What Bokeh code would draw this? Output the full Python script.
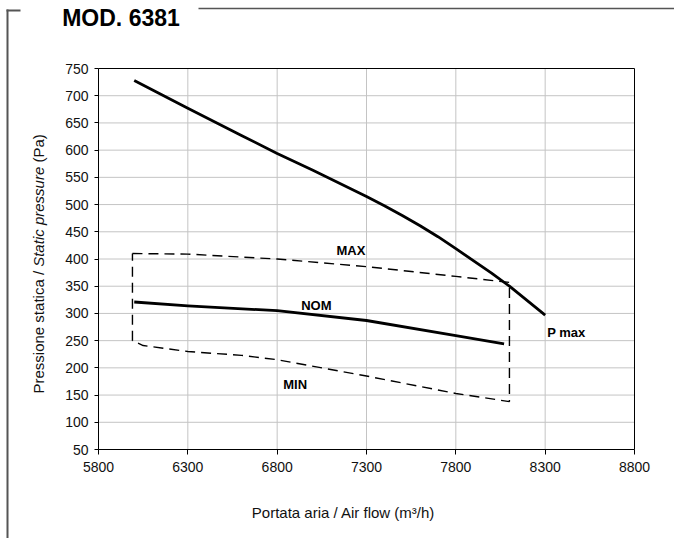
import math
from bokeh.plotting import figure
from bokeh.models import Label, Arrow, Range1d, LinearAxis, FixedTicker
from bokeh.embed import file_html
from bokeh.resources import INLINE

# ---------------- data ----------------
X_TICKS = [5800, 6300, 6800, 7300, 7800, 8300, 8800]
Y_TICKS = list(range(50, 751, 50))

# P max curve (solid)
PMAX_X = [6000, 6300, 6600, 6800, 7000, 7300, 7400, 7500, 7600, 7700, 7800, 8000, 8100, 8300]
PMAX_Y = [728, 677, 627, 594, 563, 515, 498, 480, 461, 441, 419, 374, 350, 297]

# NOM curve (solid)
NOM_X = [6000, 6300, 6800, 7300, 7800, 8070]
NOM_Y = [321, 314, 305, 287, 259, 244]

# MAX limit (dashed)
MAXD_X = [5990, 6300, 6800, 7300, 7800, 8100]
MAXD_Y = [410, 409, 400, 386, 368, 357]

# MIN limit (dashed)
MIND_X = [5990, 6050, 6300, 6600, 6800, 7300, 7800, 8100]
MIND_Y = [250, 241, 230, 223, 215, 185, 153, 138]

TITLE = "MOD. 6381"
XLABEL = "Portata aria / Air flow (m³/h)"
YLABEL_PARTS = [("Pressione statica /", "normal"), ("Static pressure", "italic"), ("(Pa)", "normal")]

# ---------------- layout (canvas pixels of the chart box) ----------------
W, H = 674, 538
BOX_L, BOX_R, BOX_T, BOX_B = 98, 634, 68, 449
X0, X1 = X_TICKS[0], X_TICKS[-1]
Y0, Y1 = Y_TICKS[0], Y_TICKS[-1]


def px2x(px):
    return X0 + (px - BOX_L) * (X1 - X0) / (BOX_R - BOX_L)


def py2y(py):
    return Y1 - (py - BOX_T) * (Y1 - Y0) / (BOX_B - BOX_T)


p = figure(width=W, height=H,
           x_range=Range1d(px2x(0), px2x(W)), y_range=Range1d(py2y(H), py2y(0)),
           output_backend="svg", toolbar_location=None, min_border=0)
p.title.visible = False
p.background_fill_color = "white"
p.border_fill_color = "white"
p.outline_line_color = None
p.grid.visible = False

# axes fixed on the edges of the chart box
p.yaxis.fixed_location = X0
p.yaxis.bounds = (Y0, Y1)
p.xaxis.fixed_location = Y0
p.xaxis.bounds = (X0, X1)
for ax in (p.xaxis, p.yaxis):
    ax.axis_line_color = "black"
    ax.axis_line_width = 1
    ax.major_tick_line_color = "black"
    ax.minor_tick_line_color = None
    ax.major_tick_in = 0
    ax.major_label_text_font = "Liberation Sans"
    ax.major_label_text_font_size = "14px"
    ax.major_label_text_color = "#111111"
p.xaxis.ticker = X_TICKS
p.yaxis.ticker = Y_TICKS
p.xaxis.major_tick_out = 5
p.yaxis.major_tick_out = 4
p.xaxis.major_label_standoff = 7
p.yaxis.major_label_standoff = 6

top_ax = LinearAxis(fixed_location=Y1, bounds=(X0, X1), ticker=FixedTicker(ticks=[]),
                    axis_line_color="black", major_tick_line_color=None, minor_tick_line_color=None,
                    major_label_text_color=None)
right_ax = LinearAxis(fixed_location=X1, bounds=(Y0, Y1), ticker=FixedTicker(ticks=[]),
                      axis_line_color="black", major_tick_line_color=None, minor_tick_line_color=None,
                      major_label_text_color=None)
p.add_layout(top_ax, "above")
p.add_layout(right_ax, "right")

# grid lines at the inner ticks
gx = X_TICKS[1:-1]
gy = Y_TICKS[1:-1]
grid_col = "#c4c4c4"
p.segment(x0=gx, y0=[Y0] * len(gx), x1=gx, y1=[Y1] * len(gx), line_color=grid_col, line_width=1)
p.segment(x0=[X0] * len(gy), y0=gy, x1=[X1] * len(gy), y1=gy, line_color=grid_col, line_width=1)

# curves
p.line(PMAX_X, PMAX_Y, line_color="black", line_width=2.8, line_join="round")
p.line(NOM_X, NOM_Y, line_color="black", line_width=2.8, line_join="round")
env_x = MAXD_X + MIND_X[::-1] + [MAXD_X[0]]
env_y = MAXD_Y + MIND_Y[::-1] + [MAXD_Y[0]]
p.line(env_x, env_y, line_color="black", line_width=1.4, line_dash="10 6")

# curve labels
for txt, px, py in [("MAX", 336, 250), ("NOM", 300.7, 305.3), ("MIN", 282.7, 384), ("P max", 546.7, 332)]:
    p.add_layout(Label(x=px2x(px), y=py2y(py), text=txt, text_font="Liberation Sans",
                       text_font_style="bold", text_font_size="13px", text_color="black",
                       text_align="left", text_baseline="alphabetic"))

# axis titles
p.add_layout(Label(x=px2x(343), y=py2y(512), text=XLABEL, text_font="Liberation Sans",
                   text_font_size="15px", text_color="#111111", text_align="center",
                   text_baseline="middle"))
offs = [0, 126.7, 230.9]
for (txt, style), off in zip(YLABEL_PARTS, offs):
    p.add_layout(Label(x=px2x(38), y=py2y(393), y_offset=off, text=txt, angle=math.pi / 2,
                       text_font="Liberation Sans", text_font_style=style,
                       text_font_size="15px", text_color="#111111",
                       text_align="left", text_baseline="middle"))

# title and page frame
p.add_layout(Label(x=px2x(61.7), y=py2y(17.5), text=TITLE, text_font="Liberation Sans",
                   text_font_style="bold", text_font_size="23px", text_color="black",
                   text_align="left", text_baseline="alphabetic"))
frame_col = "#555555"
p.add_layout(Arrow(end=None, x_start=px2x(198), y_start=py2y(8), x_end=px2x(W), y_end=py2y(8),
                   line_color=frame_col, line_width=1.6))
p.add_layout(Arrow(end=None, x_start=px2x(7), y_start=py2y(9), x_end=px2x(7), y_end=py2y(H),
                   line_color=frame_col, line_width=2))
p.add_layout(Arrow(end=None, x_start=px2x(6), y_start=py2y(10), x_end=px2x(20), y_end=py2y(10),
                   line_color=frame_col, line_width=2))

open("out.html", "w").write(file_html(p, INLINE))
